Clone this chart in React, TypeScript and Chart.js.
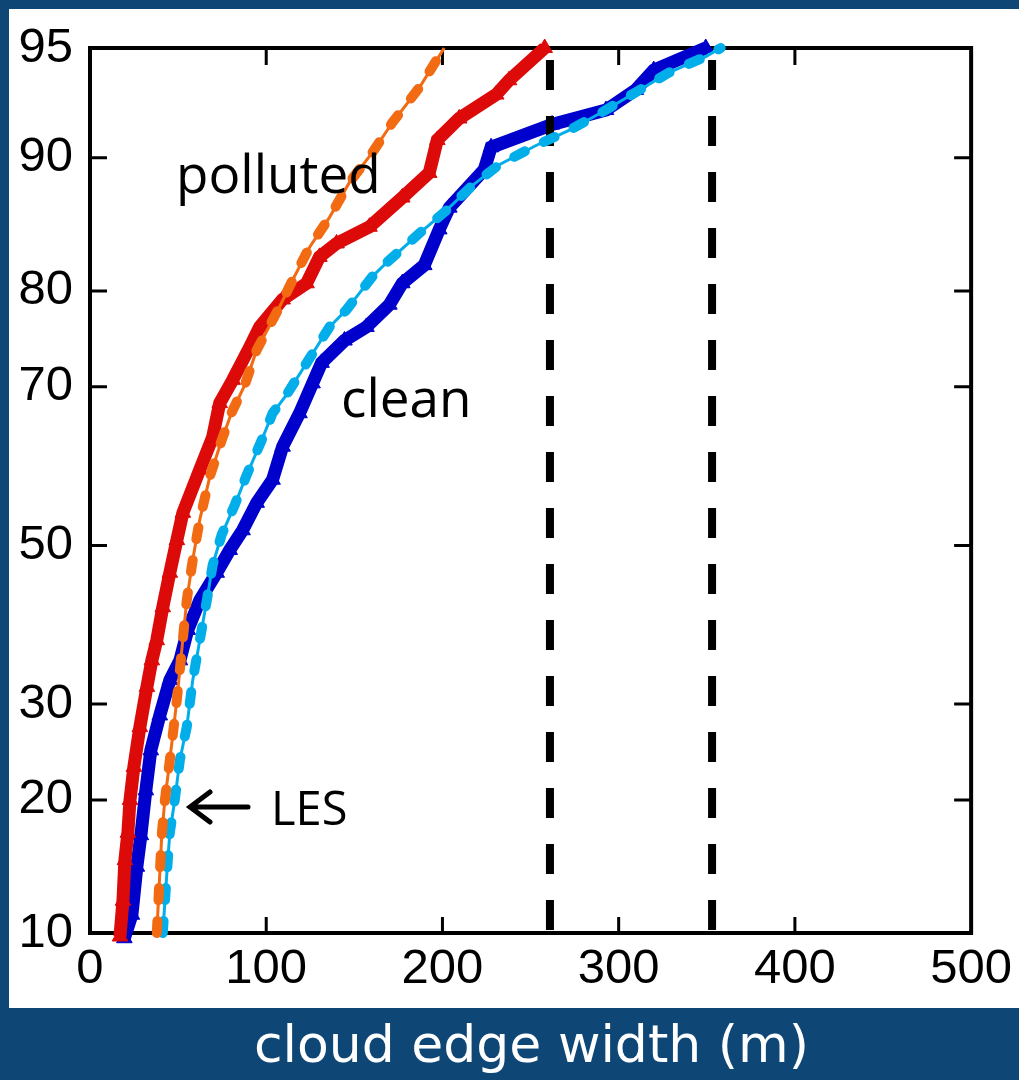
import React, { useEffect, useRef } from "react";
import { Chart, registerables } from "chart.js";
Chart.register(...registerables);

// ---- data ----
const xTickValues = [0, 100, 200, 300, 400, 500];
const yTickLabels = [10, 20, 30, 50, 70, 80, 90, 95];
const innerYTicks = [20, 30, 50, 70, 80, 90];
const innerXTicks = [100, 200, 300, 400];

const pollutedObsWidth = [17, 18.7, 19.8, 21.5, 22.7, 24.9, 28.3, 32.3, 35.1, 37.9, 41.3, 45.3, 49.3, 52.7, 62.3, 69.6, 73.6, 81.0, 90.6, 96.3, 109.3, 122.9, 130.2, 139.9, 158.6, 177.2, 192.5, 197.1, 209.5, 230.5, 237.8, 258];
const pollutedObsPct = [9.8, 12.0, 14.9, 17.1, 20.0, 23.2, 27.4, 32.0, 35.2, 37.7, 41.9, 46.4, 50.7, 54.3, 59.9, 64.0, 68.1, 70.8, 74.4, 76.5, 79.2, 80.7, 83.0, 84.1, 85.4, 87.5, 89.1, 91.0, 92.1, 93.2, 93.8, 95.0];

const cleanObsWidth = [19.5, 23.8, 26.6, 28.9, 31.7, 34.5, 39.6, 45.3, 51.0, 55.5, 62.3, 71.9, 79.3, 86.6, 94.6, 103.6, 109.3, 118.9, 126.3, 131.4, 144.4, 156.9, 169.9, 177.2, 189.7, 198.2, 203.9, 223.7, 227.6, 262.2, 292.8, 309.7, 319.9, 349.4];
const cleanObsPct = [9.7, 11.1, 14.4, 16.9, 20.9, 24.9, 28.7, 32.8, 35.2, 39.0, 42.8, 46.4, 49.4, 52.0, 55.6, 58.6, 62.8, 66.9, 70.4, 72.7, 75.1, 76.5, 78.7, 80.7, 82.3, 85.2, 86.8, 89.3, 90.6, 91.8, 92.5, 93.4, 94.2, 95.0];

const lesPollutedWidth = [37.9, 39.6, 40.8, 42.5, 45.3, 49.3, 52.1, 54.9, 58.3, 62.3, 68.0, 74.7, 80.4, 87.8, 94.6, 107.6, 115.0, 124.6, 135.9, 147.2, 160.2, 171.6, 186.9, 201.0];
const lesPollutedPct = [10, 13.9, 17.1, 20.0, 23.9, 30.5, 36.5, 42.8, 48.1, 53.4, 59.0, 63.6, 67.0, 70.2, 74.1, 78.5, 81.0, 83.8, 86.1, 88.5, 90.3, 91.9, 93.5, 95.0];

const lesCleanWidth = [41.3, 43.6, 45.3, 48.1, 51.0, 54.9, 58.3, 62.3, 66.3, 69.6, 74.7, 82.1, 88.9, 97.4, 103.6, 111.6, 124.6, 135.9, 145.5, 152.9, 160.2, 168.2, 186.9, 202.2, 216.9, 232.2, 253.1, 271.8, 290.5, 309.7, 328.4, 349.4, 357.9];
const lesCleanPct = [10, 13.9, 17.1, 20.0, 23.9, 27.4, 32.8, 37.7, 42.8, 47.4, 51.4, 55.3, 59.2, 63.6, 66.9, 69.1, 73.2, 76.5, 78.2, 79.8, 81.3, 82.5, 84.9, 86.6, 88.3, 89.6, 90.7, 91.5, 92.4, 93.3, 94.1, 94.7, 95.0];

const thresholdWidths = [261, 353];

// ---- colours ----
const BG = "#0E4676";
const RED = "#DD0A0A";
const BLUE = "#0000CC";
const ORANGE = "#F26A12";
const LIGHTBLUE = "#02AEEA";

// inverse normal CDF (Acklam) – probability axis transform
function probit(p: number): number {
  const a = [-3.969683028665376e1, 2.209460984245205e2, -2.759285104469687e2, 1.38357751867269e2, -3.066479806614716e1, 2.506628277459239];
  const b = [-5.447609879822406e1, 1.615858368580409e2, -1.556989798598866e2, 6.680131188771972e1, -1.328068155288572e1];
  const c = [-7.784894002430293e-3, -3.223964580411365e-1, -2.400758277161838, -2.549732539343734, 4.374664141464968, 2.938163982698783];
  const d = [7.784695709041462e-3, 3.224671290700398e-1, 2.445134137142996, 3.754408661907416];
  const pl = 0.02425;
  if (p < pl) {
    const q = Math.sqrt(-2 * Math.log(p));
    return (((((c[0] * q + c[1]) * q + c[2]) * q + c[3]) * q + c[4]) * q + c[5]) / ((((d[0] * q + d[1]) * q + d[2]) * q + d[3]) * q + 1);
  }
  if (p > 1 - pl) {
    const q = Math.sqrt(-2 * Math.log(1 - p));
    return -(((((c[0] * q + c[1]) * q + c[2]) * q + c[3]) * q + c[4]) * q + c[5]) / ((((d[0] * q + d[1]) * q + d[2]) * q + d[3]) * q + 1);
  }
  const q = p - 0.5;
  const r = q * q;
  return ((((((a[0] * r + a[1]) * r + a[2]) * r + a[3]) * r + a[4]) * r + a[5]) * q) / (((((b[0] * r + b[1]) * r + b[2]) * r + b[3]) * r + b[4]) * r + 1);
}

const pz = (pct: number) => probit(pct / 100);
const toPoints = (w: number[], pct: number[]) => w.map((x, i) => ({ x, y: pz(pct[i]) }));

const framePlugin = {
  id: "framePlugin",
  beforeDraw(chart: any) {
    const { ctx, width, height } = chart;
    ctx.save();
    ctx.fillStyle = BG;
    ctx.fillRect(0, 0, width, height);
    ctx.fillStyle = "#ffffff";
    ctx.fillRect(9, 9, width - 9, 999);
    ctx.restore();
  },
  beforeDatasetsDraw(chart: any) {
    const { ctx, chartArea, scales } = chart;
    const { left, right, top, bottom } = chartArea;
    ctx.save();
    ctx.strokeStyle = "#000";
    ctx.lineWidth = 4;
    ctx.strokeRect(left, top, right - left, bottom - top);
    ctx.lineWidth = 3;
    ctx.beginPath();
    innerXTicks.forEach((v) => {
      const px = scales.x.getPixelForValue(v);
      ctx.moveTo(px, bottom);
      ctx.lineTo(px, bottom - 16);
      ctx.moveTo(px, top);
      ctx.lineTo(px, top + 17);
    });
    innerYTicks.forEach((p) => {
      const py = scales.y.getPixelForValue(pz(p));
      ctx.moveTo(left, py);
      ctx.lineTo(left + 17, py);
      ctx.moveTo(right, py);
      ctx.lineTo(right - 17, py);
    });
    ctx.stroke();
    ctx.restore();
  },
  afterDatasetsDraw(chart: any) {
    const { ctx } = chart;
    ctx.save();
    ctx.fillStyle = "#000";
    ctx.textBaseline = "alphabetic";
    ctx.textAlign = "left";
    ctx.font = '53px "Open Sans"';
    ctx.fillText("polluted", 176, 193);
    ctx.fillText("clean", 341, 417);
    ctx.font = '47px "Open Sans"';
    ctx.fillText("LES", 271, 825);
    ctx.strokeStyle = "#000";
    ctx.lineWidth = 5;
    ctx.lineCap = "round";
    ctx.beginPath();
    ctx.moveTo(248, 807);
    ctx.lineTo(190, 807);
    ctx.moveTo(210, 792);
    ctx.lineTo(190, 807);
    ctx.lineTo(210, 822);
    ctx.stroke();
    ctx.restore();
  },
};

export default function App() {
  const ref = useRef<HTMLCanvasElement | null>(null);
  useEffect(() => {
    if (!ref.current) return;
    const yMin = pz(yTickLabels[0]);
    const yMax = pz(yTickLabels[yTickLabels.length - 1]);
    const obs = (label: string, w: number[], p: number[], color: string) => ({
      label,
      data: toPoints(w, p),
      borderColor: color,
      backgroundColor: color,
      borderWidth: 13,
      pointStyle: "triangle",
      pointRadius: 9,
      pointBorderWidth: 1,
      pointBorderColor: color,
      pointBackgroundColor: color,
      clip: false,
      order: 5,
    });
    const lesThin = (label: string, w: number[], p: number[], color: string) => ({
      label,
      data: toPoints(w, p),
      borderColor: color,
      borderWidth: 3,
      pointRadius: 0,
      clip: false,
      order: 2,
    });
    const lesDash = (label: string, w: number[], p: number[], color: string) => ({
      label,
      data: toPoints(w, p),
      borderColor: color,
      borderWidth: 10,
      borderDash: [12, 21],
      borderCapStyle: "round",
      pointRadius: 0,
      clip: false,
      order: 1,
    });
    const thresholds = thresholdWidths.map((w) => ({
      label: "threshold " + w,
      data: [
        { x: w, y: yMax },
        { x: w, y: yMin },
      ],
      borderColor: "#000",
      borderWidth: 8,
      borderDash: [30, 26],
      borderDashOffset: 44,
      pointRadius: 0,
      clip: false,
      order: 3,
    }));
    const chart = new Chart(ref.current, {
      type: "line",
      data: {
        datasets: [
          obs("polluted", pollutedObsWidth, pollutedObsPct, RED),
          obs("clean", cleanObsWidth, cleanObsPct, BLUE),
          ...thresholds,
          lesThin("LES polluted", lesPollutedWidth, lesPollutedPct, ORANGE),
          lesThin("LES clean", lesCleanWidth, lesCleanPct, LIGHTBLUE),
          lesDash("LES polluted dash", lesPollutedWidth, lesPollutedPct, ORANGE),
          lesDash("LES clean dash", lesCleanWidth, lesCleanPct, LIGHTBLUE),
        ] as any,
      },
      options: {
        animation: false,
        responsive: false,
        devicePixelRatio: 1,
        layout: { padding: { top: 48, right: 45, left: 0, bottom: 0 } },
        plugins: { legend: { display: false }, tooltip: { enabled: false }, title: { display: false } },
        elements: { line: { tension: 0 } },
        scales: {
          x: {
            type: "linear",
            min: xTickValues[0],
            max: xTickValues[xTickValues.length - 1],
            grid: { display: false, drawTicks: false },
            border: { display: false },
            afterBuildTicks: (scale: any) => {
              scale.ticks = xTickValues.map((v) => ({ value: v }));
            },
            afterFit: (scale: any) => {
              scale.height = 147;
            },
            ticks: {
              color: "#000",
              padding: 7,
              maxRotation: 0,
              font: { family: '"Liberation Sans", Arial, sans-serif', size: 49 },
              callback: (v: any) => String(v),
            },
          },
          y: {
            type: "linear",
            min: yMin,
            max: yMax,
            grid: { display: false, drawTicks: false },
            border: { display: false },
            afterBuildTicks: (scale: any) => {
              scale.ticks = yTickLabels.map((p) => ({ value: pz(p) }));
            },
            afterFit: (scale: any) => {
              scale.width = 90;
            },
            ticks: {
              color: "#000",
              padding: 17,
              font: { family: '"Liberation Sans", Arial, sans-serif', size: 49 },
              callback: (_v: any, i: number) => String(yTickLabels[i]),
            },
          },
        },
      },
      plugins: [framePlugin],
    } as any);
    return () => chart.destroy();
  }, []);

  return (
    <div style={{ position: "absolute", left: 0, top: 0, width: 1019, height: 1080, background: BG, overflow: "hidden" }}>
      <canvas ref={ref} width={1019} height={1080} style={{ position: "absolute", left: 0, top: 0, width: 1019, height: 1080 }} />
      <div
        style={{
          position: "absolute",
          left: 22,
          top: 1008,
          width: 1019,
          height: 72,
          lineHeight: "72px",
          textAlign: "center",
          color: "#ffffff",
          fontFamily: '"DejaVu Sans", sans-serif',
          fontSize: 52,
          whiteSpace: "nowrap",
        }}
      >
        cloud edge width (m)
      </div>
    </div>
  );
}
